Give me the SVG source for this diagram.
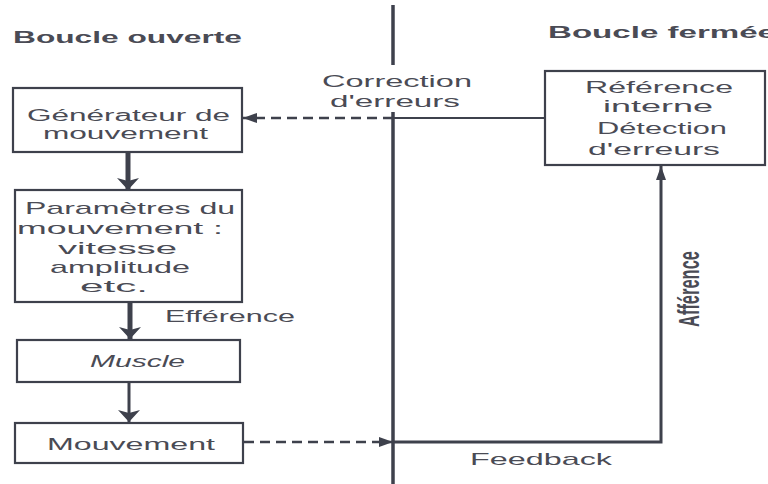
<svg xmlns="http://www.w3.org/2000/svg" width="768" height="484" viewBox="0 0 768 484">
<style>
  .box { fill: #ffffff; stroke: #3e414c; stroke-width: 2.2; }
  .t { font-family: "Liberation Sans", Arial, sans-serif; font-size: 17px; fill: #4a4b55; }
  .s { font-size: 16px; }
  .title { font-family: "Liberation Sans", Arial, sans-serif; font-size: 17px; font-weight: bold; fill: #4a4b55; }
  .ln { stroke: #3e414c; fill: none; }
  .dash { stroke-dasharray: 10 6; }
</style>
<defs>
  <marker id="headThin" markerUnits="userSpaceOnUse" markerWidth="16" markerHeight="12" refX="14" refY="6" orient="auto">
    <polygon points="0,1 14,6 0,11" fill="#3e414c"/>
  </marker>
  <marker id="headThick" markerUnits="userSpaceOnUse" markerWidth="14" markerHeight="24" refX="12" refY="12" orient="auto">
    <polygon points="0,1 12,12 0,23 3,12" fill="#3e414c"/>
  </marker>
</defs>
<rect width="768" height="484" fill="#ffffff"/>

<text class="title" x="13" y="43" textLength="229" lengthAdjust="spacingAndGlyphs">Boucle ouverte</text>
<text class="title" x="548" y="38" textLength="228" lengthAdjust="spacingAndGlyphs">Boucle fermée</text>

<g id="connectors">
  <line class="ln" x1="393" y1="5" x2="393" y2="65" stroke-width="3.5"/>
  <line class="ln" x1="393" y1="112" x2="393" y2="484" stroke-width="3.5"/>
  <line class="ln" x1="545" y1="118" x2="393" y2="118" stroke-width="2.2"/>
  <line class="ln dash" x1="393" y1="118" x2="243" y2="118" stroke-width="2.5" marker-end="url(#headThin)"/>
  <line class="ln dash" x1="244" y1="442" x2="393" y2="442" stroke-width="2.5" marker-end="url(#headThin)"/>
  <polyline class="ln" points="393,442 661,442 661,166" stroke-width="3" marker-end="url(#headThin)"/>
  <line class="ln" x1="128" y1="152" x2="128" y2="190" stroke-width="5" marker-end="url(#headThick)"/>
  <line class="ln" x1="130" y1="302" x2="130" y2="339" stroke-width="5" marker-end="url(#headThick)"/>
  <line class="ln" x1="129" y1="382" x2="129" y2="422" stroke-width="3" marker-end="url(#headThick)"/>
  <text class="t" x="322" y="87" textLength="150" lengthAdjust="spacingAndGlyphs">Correction</text>
  <text class="t" x="330" y="107" textLength="130" lengthAdjust="spacingAndGlyphs">d'erreurs</text>
  <text class="t" x="165" y="322" textLength="130" lengthAdjust="spacingAndGlyphs">Efférence</text>
  <text class="t" x="470" y="465" textLength="142" lengthAdjust="spacingAndGlyphs">Feedback</text>
  <text class="t" transform="translate(699,327) rotate(-90)" x="0" y="0" style="font-size:29px;font-weight:bold" textLength="76" lengthAdjust="spacingAndGlyphs">Afférence</text>
</g>

<g id="generateur">
  <rect class="box" x="13" y="88" width="229" height="64"/>
  <text class="t s" x="27" y="121" textLength="203" lengthAdjust="spacingAndGlyphs">Générateur de</text>
  <text class="t s" x="43" y="139" textLength="165" lengthAdjust="spacingAndGlyphs">mouvement</text>
</g>

<g id="parametres">
  <rect class="box" x="15" y="190" width="227" height="112"/>
  <text class="t" x="25" y="214" textLength="210" lengthAdjust="spacingAndGlyphs">Paramètres du</text>
  <text class="t" x="17" y="234" textLength="206" lengthAdjust="spacingAndGlyphs">mouvement :</text>
  <text class="t" x="58" y="254" textLength="119" lengthAdjust="spacingAndGlyphs">vitesse</text>
  <text class="t" x="50" y="273" textLength="140" lengthAdjust="spacingAndGlyphs">amplitude</text>
  <text class="t" x="80" y="292" textLength="68" lengthAdjust="spacingAndGlyphs">etc.</text>
</g>

<g id="muscle">
  <rect class="box" x="17" y="340" width="223" height="42"/>
  <text class="t" x="90" y="367" font-style="italic" textLength="95" lengthAdjust="spacingAndGlyphs">Muscle</text>
</g>

<g id="mouvement">
  <rect class="box" x="15" y="423" width="228" height="40"/>
  <text class="t" x="47" y="450" textLength="168" lengthAdjust="spacingAndGlyphs">Mouvement</text>
</g>

<g id="reference">
  <rect class="box" x="545" y="71" width="220" height="94"/>
  <text class="t" x="585" y="93" textLength="148" lengthAdjust="spacingAndGlyphs">Référence</text>
  <text class="t" x="603" y="112" textLength="110" lengthAdjust="spacingAndGlyphs">interne</text>
  <text class="t" x="597" y="134" textLength="130" lengthAdjust="spacingAndGlyphs">Détection</text>
  <text class="t" x="588" y="155" textLength="132" lengthAdjust="spacingAndGlyphs">d'erreurs</text>
</g>
</svg>
